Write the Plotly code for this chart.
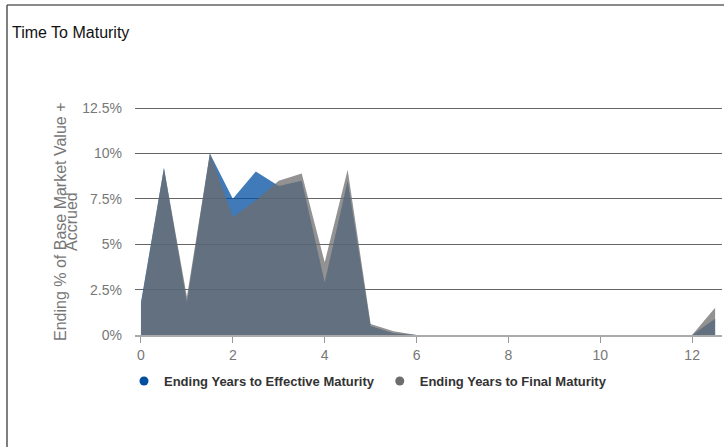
import plotly.graph_objects as go

# Years to maturity buckets (0.5-year steps)
years = [0, 0.5, 1, 1.5, 2, 2.5, 3, 3.5, 4, 4.5, 5, 5.5, 6, 6.5, 7, 7.5, 8, 8.5, 9, 9.5,
         10, 10.5, 11, 11.5, 12, 12.5]

# Ending % of base market value + accrued
effective_pct = [1.8, 9.2, 1.8, 10.0, 7.5, 9.0, 8.2, 8.5, 2.9, 8.5, 0.5, 0.1, 0, 0, 0, 0, 0, 0, 0, 0,
                 0, 0, 0, 0, 0, 0.9]
final_pct = [1.7, 9.2, 2.1, 10.0, 6.5, 7.4, 8.5, 8.9, 4.0, 9.1, 0.6, 0.2, 0, 0, 0, 0, 0, 0, 0, 0,
             0, 0, 0, 0, 0, 1.5]

x_ticks = [0, 2, 4, 6, 8, 10, 12]
y_ticks = [0, 2.5, 5, 7.5, 10, 12.5]
y_tick_text = ["0%", "2.5%", "5%", "7.5%", "10%", "12.5%"]

BLUE = "#004ea0"
GRAY = "#6d6d6d"
FONT = "Liberation Sans, Arial, sans-serif"

W, H = 724, 447
ML, MR, MT, MB = 135, 2, 100, 112
PW, PH = W - ML - MR, H - MT - MB
Y_TOP = 12.5 * PH / 227.0  # leaves a little headroom above the 12.5% line


def px_to_paper(px, py):
    return (px - ML) / PW, (H - MB - py) / PH


fig = go.Figure()
fig.add_trace(go.Scatter(
    x=years, y=effective_pct, mode="lines", fill="tozeroy",
    line=dict(width=0, color=BLUE), fillcolor="rgba(0,78,160,0.75)",
    showlegend=False, hoverinfo="skip"))
fig.add_trace(go.Scatter(
    x=years, y=final_pct, mode="lines", fill="tozeroy",
    line=dict(width=0, color=GRAY), fillcolor="rgba(109,109,109,0.75)",
    showlegend=False, hoverinfo="skip"))

# legend entries with round markers
for name, col in [("Ending Years to Effective Maturity", BLUE),
                  ("Ending Years to Final Maturity", GRAY)]:
    fig.add_trace(go.Scatter(x=[None], y=[None], mode="markers", name=name,
                             marker=dict(symbol="circle", size=9, color=col)))

# outer frame (top and left edges)
x0, y0 = px_to_paper(7, 5)
x1, _ = px_to_paper(W + 5, 5)
_, y1 = px_to_paper(7, H + 5)
fig.add_shape(type="line", xref="paper", yref="paper", x0=x0, y0=y0, x1=x1, y1=y0,
              line=dict(color="#8a8a8a", width=2))
fig.add_shape(type="line", xref="paper", yref="paper", x0=x0, y0=y0, x1=x0, y1=y1,
              line=dict(color="#555555", width=1.5))

# y-axis title in two tight lines
ax1, ay = px_to_paper(60, 222)
ax2, _ = px_to_paper(71, 222)
for txt, ax in [("Ending % of Base Market Value +", ax1), ("Accrued", ax2)]:
    fig.add_annotation(text=txt, xref="paper", yref="paper",
                       x=ax, y=ay, xanchor="center", yanchor="middle",
                       textangle=-90, showarrow=False,
                       font=dict(family=FONT, size=16, color="#777777"))

fig.update_layout(
    width=W, height=H,
    margin=dict(l=ML, r=MR, t=MT, b=MB),
    paper_bgcolor="white", plot_bgcolor="white",
    title=dict(text="Time To Maturity", xref="container", yref="container",
               x=12 / W, y=1 - 32 / H, xanchor="left", yanchor="middle",
               font=dict(family=FONT, size=16, color="#111111")),
    legend=dict(orientation="h", xref="container", yref="container",
                x=368 / W, y=1 - 381 / H, xanchor="center", yanchor="middle",
                font=dict(family=FONT, size=13, color="#333333", weight="bold"),
                itemwidth=30, tracegroupgap=0),
    xaxis=dict(range=[-0.13, 12.65], tickvals=x_ticks, showgrid=False,
               showline=True, linecolor="#aaaaaa", linewidth=1.5,
               ticks="outside", ticklen=6, tickcolor="#999999",
               tickfont=dict(family=FONT, size=14, color="#777777"),
               zeroline=False, fixedrange=True),
    yaxis=dict(range=[0, Y_TOP], tickvals=y_ticks, ticktext=y_tick_text,
               showgrid=True, gridcolor="#666666", gridwidth=1,
               zeroline=False, showline=False, ticks="",
               ticklabelstandoff=12,
               tickfont=dict(family=FONT, size=14, color="#777777"),
               fixedrange=True),
)

fig.write_html("out.html")
